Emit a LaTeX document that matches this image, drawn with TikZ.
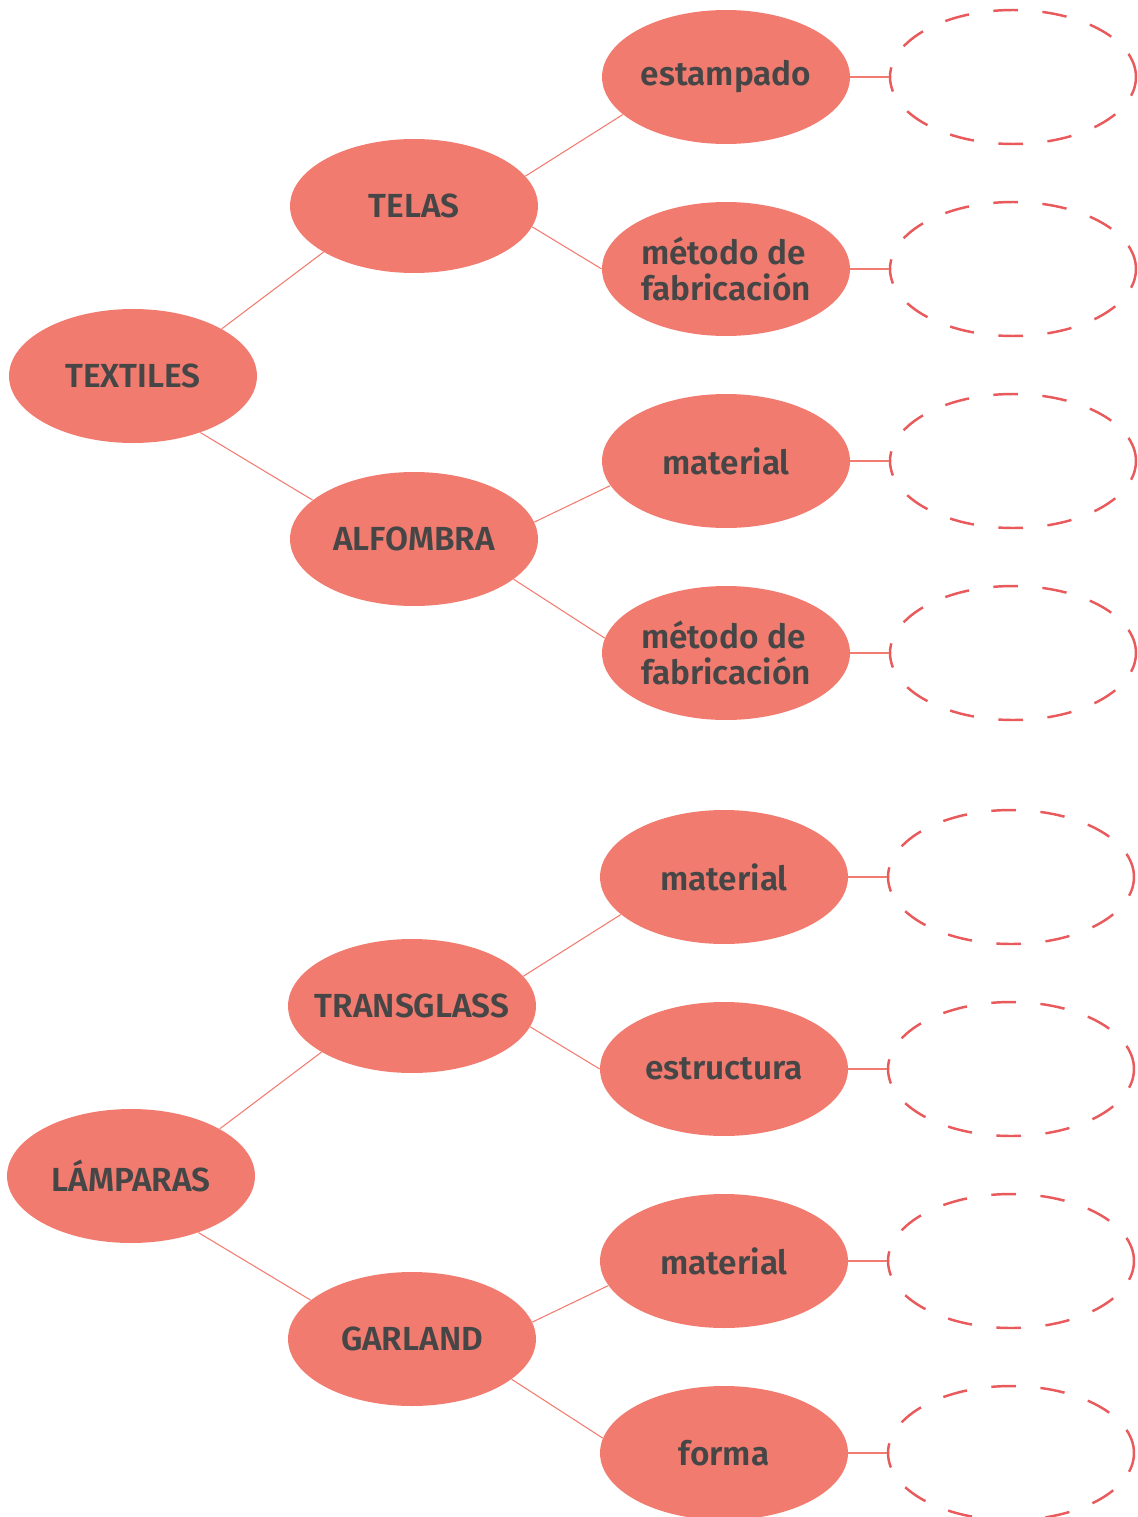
\documentclass[tikz,border=0pt]{standalone}
\usepackage{fontspec}
\setmainfont{Fira Sans}[BoldFont={Fira Sans SemiBold}]
\usetikzlibrary{shapes.geometric}
\definecolor{salmon}{HTML}{F27B70}
\definecolor{rojo}{HTML}{E85A5C}
\definecolor{texto}{HTML}{464646}

\begin{document}
\begin{tikzpicture}[x=0.02cm,y=-0.02cm,
        burbuja/.style={ellipse,fill=salmon,minimum width=4.96cm,minimum height=2.68cm,
            inner xsep=-0.5cm,inner ysep=-0.3cm,text=texto,
            font=\fontsize{19}{20}\selectfont\bfseries,align=left},
        hueco/.style={ellipse,draw=rojo,line width=1.4pt,dash pattern=on 14pt off 14pt,
            minimum width=4.92cm,minimum height=2.68cm,inner sep=0pt},
        rama/.style={draw=salmon,line width=0.6pt}]
        \useasboundingbox (0,0) rectangle (1137,1517);

        % textiles
        \node[burbuja] (textiles) at (133,376) {TEXTILES};
        \node[burbuja] (telas) at (414,206) {TELAS};
        \node[burbuja] (alfombra) at (414,539) {ALFOMBRA};
        \node[burbuja] (estampado) at (726,77) {estampado};
        \node[burbuja] (metodoA) at (726,269) {método de\\fabricación};
        \node[burbuja] (materialA) at (726,461) {material};
        \node[burbuja] (metodoB) at (726,653) {método de\\fabricación};

        % lamparas
        \node[burbuja] (lamparas) at (131,1176) {LÁMPARAS};
        \node[burbuja] (transglass) at (412,1006) {TRANSGLASS};
        \node[burbuja] (garland) at (412,1339) {GARLAND};
        \node[burbuja] (materialB) at (724,877) {material};
        \node[burbuja] (estructura) at (724,1069) {estructura};
        \node[burbuja] (materialC) at (724,1261) {material};
        \node[burbuja] (forma) at (724,1453) {forma};

        \foreach \a/\b/\i/\j in {textiles/telas/28/207, textiles/alfombra/320/159,
                telas/estampado/15/200, telas/metodoA/350/180,
                alfombra/materialA/8/192, alfombra/metodoB/338/173,
                lamparas/transglass/28/207, lamparas/garland/320/159,
                transglass/materialB/15/200, transglass/estructura/350/180,
                garland/materialC/8/192, garland/forma/338/173}
            \draw[rama] (\a.\i) -- (\b.\j);

        % huecos
        \foreach \y [count=\i] in {77,269,461,653}
            \node[hueco] (huecoT\i) at (1013,\y) {};
        \foreach \y [count=\i] in {877,1069,1261,1453}
            \node[hueco] (huecoL\i) at (1011,\y) {};
        \foreach \n [count=\i] in {estampado,metodoA,materialA,metodoB}
            \draw[rama] (\n.east) -- (huecoT\i.west);
        \foreach \n [count=\i] in {materialB,estructura,materialC,forma}
            \draw[rama] (\n.east) -- (huecoL\i.west);
    \end{tikzpicture}
\end{document}
